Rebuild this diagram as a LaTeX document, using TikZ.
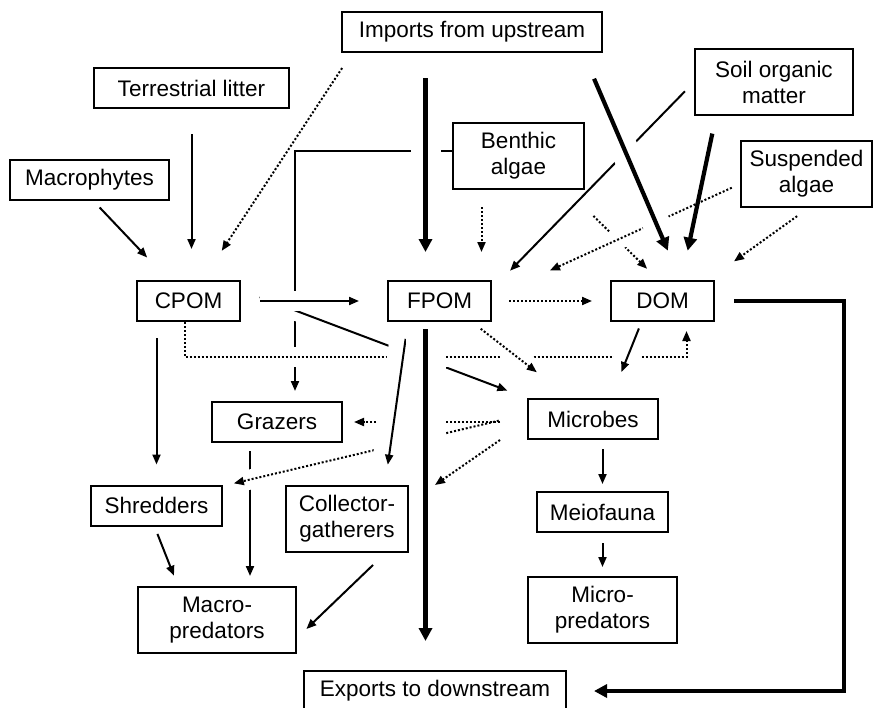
\documentclass[tikz,border=0pt]{standalone}
\usepackage{fontspec}
\setmainfont{Liberation Sans}
\usetikzlibrary{positioning,backgrounds,arrows.meta,calc}

\begin{document}
\begin{tikzpicture}[
    x=1pt, y=-1pt,
    font=\fontsize{22.5}{26}\selectfont,
    box/.style={rectangle, draw, line width=2pt, minimum height=40pt, inner sep=0pt, align=center},
    tall/.style={box, minimum height=66pt},
    arrow/.style={-{Triangle[length=10pt, width=8pt]}, line width=2pt},
    thickarrow/.style={-{Triangle[length=13pt, width=13pt]}, line width=4.2pt},
    dotarrow/.style={arrow, dotted},
    bridge/.style={preaction={draw=white, line width=#1, arrows=-, solid}},
    bridge/.default=20pt,
]
\useasboundingbox (0,0) rectangle (874,707);

% ====== Sources ======
\node[box, minimum width=260pt] (imports) at (472,32) {Imports from upstream};
\node[box, minimum width=195pt] (litter) at (191.5,88) {Terrestrial litter};
\node[box, minimum width=159pt] (macro) at (89.5,180) {Macrophytes};
\node[tall, minimum width=131pt] (benthic) at (518.5,156) {Benthic\\algae};
\node[tall, minimum width=158pt] (soil) at (774,82) {Soil organic\\matter};
\node[tall, minimum width=131pt] (susp) at (806.5,174) {Suspended\\algae};

% ====== Organic matter pools ======
\node[box, minimum width=103pt] (cpom) at (188.5,301) {CPOM};
\node[box, minimum width=103pt, right=146pt of cpom] (fpom) {FPOM};
\node[box, minimum width=103pt, right=118pt of fpom] (dom) {DOM};

% ====== Consumers ======
\node[box, minimum width=130pt] (grazers) at (277,422) {Grazers};
\node[box, minimum width=130pt] (microbes) at (593,419) {Microbes};
\node[box, minimum width=131pt] (shredders) at (156.5,505.5) {Shredders};
\node[tall, minimum width=122pt] (collector) at (347,518.5) {Collector-\\gatherers};
\node[tall, minimum width=158pt] (macropred) at (217,620) {Macro-\\predators};
\node[box, minimum width=131pt] (meio) at (602.5,512) {Meiofauna};
\node[tall, minimum width=149pt, below=43pt of meio] (micropred) {Micro-\\predators};

\node[box, minimum width=262pt] (exports) at (435,691) {Exports to downstream};
\coordinate (drift) at (435,485);

\begin{scope}[on background layer]
% links that pass under others
\draw[arrow, shorten >=10pt] ([yshift=5pt]benthic.west) -| ([xshift=18pt]grazers.north);
\draw[arrow, shorten <=8pt, shorten >=10pt] ([xshift=-27pt]grazers.south) -- ([xshift=-27pt]grazers.south |- macropred.north);
\draw[dotarrow, shorten <=37pt, shorten >=16pt] ([xshift=-18pt]benthic.south east) -- ([xshift=-4pt]dom.north);

% crossing links, cut white where they pass over
\draw[dotarrow, bridge, shorten <=9pt, shorten >=23pt] ([yshift=-10pt]susp.west) -- ([xshift=37pt]fpom.north east);
\draw[arrow, bridge, shorten <=13pt, shorten >=13pt] (soil.west) -- ([xshift=9pt]fpom.north east);
\draw[thickarrow, bridge=28pt, shorten <=28pt, shorten >=32pt] ([xshift=-20pt]imports.south east) -- ([xshift=18pt]dom.north);
\draw[thickarrow, bridge=30pt, shorten <=25pt, shorten >=28pt] ([xshift=-14pt]fpom.north |- imports.south) -- ([xshift=-14pt]fpom.north);

\draw[arrow, bridge, shorten <=20pt, shorten >=21pt] ([yshift=11pt]cpom.east) -- (microbes.north west);
\draw[dotarrow, bridge, shorten >=9pt] ([xshift=-4pt]cpom.south) -- ++(0,35) -| ([xshift=24pt]dom.south);
\draw[arrow, bridge, shorten <=19pt, shorten >=28pt] (cpom) -- (fpom);

\draw[dotarrow, bridge, shorten <=29pt, shorten >=5pt] ([yshift=5pt]microbes.west) -- ([xshift=6pt]shredders.north east);
\draw[dotarrow, shorten <=27pt, shorten >=11pt] (microbes.west |- grazers.east) -- (grazers.east);

\draw[arrow, bridge=32pt, shorten <=17pt, shorten >=20pt] ([xshift=21pt]fpom.south west) -- ([xshift=38pt]collector.north);
\draw[thickarrow, bridge=40pt, shorten <=7pt, shorten >=29pt] ([xshift=-14pt]fpom.south) -- ([xshift=-14pt]fpom.south |- exports.north);
\draw[dotarrow, bridge, shorten <=11pt, shorten >=42pt] ([xshift=-20pt]fpom.south east) -- ([xshift=-23pt]microbes.north);
\draw[arrow, bridge=26pt, shorten <=7pt, shorten >=28pt] ([xshift=-21pt]dom.south) -- ([xshift=18pt]microbes.north);

% ====== Inputs ======
\draw[dotarrow, shorten <=18pt, shorten >=35pt] ([xshift=11pt]imports.south west) -- ([xshift=14pt]cpom.north);
\draw[arrow, shorten <=25pt, shorten >=31pt] (litter.south) -- (litter.south |- cpom.north);
\draw[arrow, shorten <=9pt, shorten >=31pt] ([xshift=4pt]macro.south) -- ([xshift=-20pt]cpom.north);
\draw[thickarrow, shorten <=18pt, shorten >=30pt] ([xshift=22pt]soil.south west) -- ([xshift=19pt]dom.north);
\draw[dotarrow, shorten <=14pt, shorten >=32pt] ([xshift=2pt]susp.south) -- ([xshift=-7pt]dom.north east);
\draw[dotarrow, shorten <=17pt, shorten >=28pt] ([xshift=42pt]fpom.north |- benthic.south) -- ([xshift=42pt]fpom.north);
\draw[dotarrow, shorten <=17pt, shorten >=18pt] (fpom) -- (dom);

% ====== Outputs ======
\draw[thickarrow, shorten <=19pt, shorten >=27pt] (dom.east) -- ++(129,0) |- (exports.east);
\draw[arrow, shorten <=16pt, shorten >=20pt] (cpom.south -| shredders.north) -- (shredders.north);
\draw[arrow, shorten <=8pt, shorten >=11pt] ([xshift=-2pt]shredders.south) -- ([xshift=41pt]macropred.north west);
\draw[arrow, shorten <=18pt, shorten >=13pt] ([xshift=39pt]collector.south) -- ([yshift=-18pt]macropred.east);
\draw[arrow, shorten <=9pt, shorten >=7pt] (microbes.south -| meio.north) -- (meio.north);
\draw[arrow, shorten <=10pt, shorten >=9pt] (meio) -- (micropred);
\draw[dotarrow] ([xshift=-27pt]microbes.south west) -- (drift);
\end{scope}

\end{tikzpicture}
\end{document}
